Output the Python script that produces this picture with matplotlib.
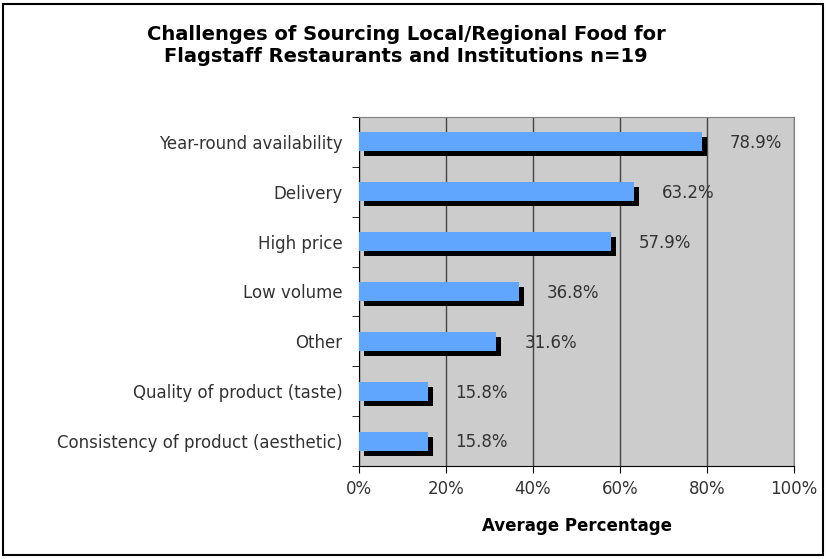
import matplotlib.pyplot as plt
import matplotlib.patheffects as pe
from matplotlib.patches import Rectangle

categories = ['Year-round availability', 'Delivery', 'High price', 'Low volume',
              'Other', 'Quality of product (taste)',
              'Consistency of product (aesthetic)']
values = [78.9, 63.2, 57.9, 36.8, 31.6, 15.8, 15.8]
xticks = [0, 20, 40, 60, 80, 100]

plt.rcParams['font.family'] = ['DejaVu Sans']
text_color = '#333333'

fig = plt.figure(figsize=(8.26, 5.59), dpi=100)
ax = fig.add_axes([0.4346, 0.1664, 0.5267, 0.6243])
ax.set_facecolor('#cccccc')

ypos = list(range(len(categories)))[::-1]
bars = ax.barh(ypos, values, height=0.38, color='#60a6ff', zorder=3)
for b in bars:
    b.set_path_effects([pe.SimplePatchShadow(offset=(3.6, -3.6), shadow_rgbFace='black', alpha=1.0),
                        pe.Normal()])

for y, v in zip(ypos, values):
    ax.annotate(f'{v:.1f}%', xy=(v, y), xytext=(20, -1), textcoords='offset points',
                ha='left', va='center', fontsize=12, color=text_color, zorder=4)

ax.set_xlim(0, 100)
ax.set_ylim(-0.5, len(categories) - 0.5)
ax.set_xticks(xticks)
ax.set_xticklabels([f'{t}%' for t in xticks], fontsize=12, color=text_color)
ax.set_yticks(ypos)
ax.set_yticklabels(categories, fontsize=12, color=text_color)
ax.tick_params(axis='y', length=0, pad=12)
ax.set_yticks([i - 0.5 for i in range(len(categories) + 1)], minor=True)
ax.tick_params(axis='y', which='minor', length=5, direction='out', color='black')
ax.tick_params(axis='x', length=5, direction='out', color='black', pad=5)

ax.grid(axis='x', color='#444444', linewidth=1, zorder=1)
ax.set_axisbelow(True)
for s in ['top', 'right']:
    ax.spines[s].set_color('#808080')
for s in ['left', 'bottom']:
    ax.spines[s].set_color('black')

ax.set_xlabel('Average Percentage', fontsize=12, fontweight='bold', labelpad=14)

fig.text(0.4915, 0.918, 'Challenges of Sourcing Local/Regional Food for\nFlagstaff Restaurants and Institutions n=19',
         ha='center', va='center', fontsize=14, fontweight='bold', linespacing=1.2)

fig.patches.append(Rectangle((0.004, 0.008), 0.992, 0.984, transform=fig.transFigure,
                             fill=False, edgecolor='black', linewidth=1.5))

fig.savefig('out.png', dpi=100)
